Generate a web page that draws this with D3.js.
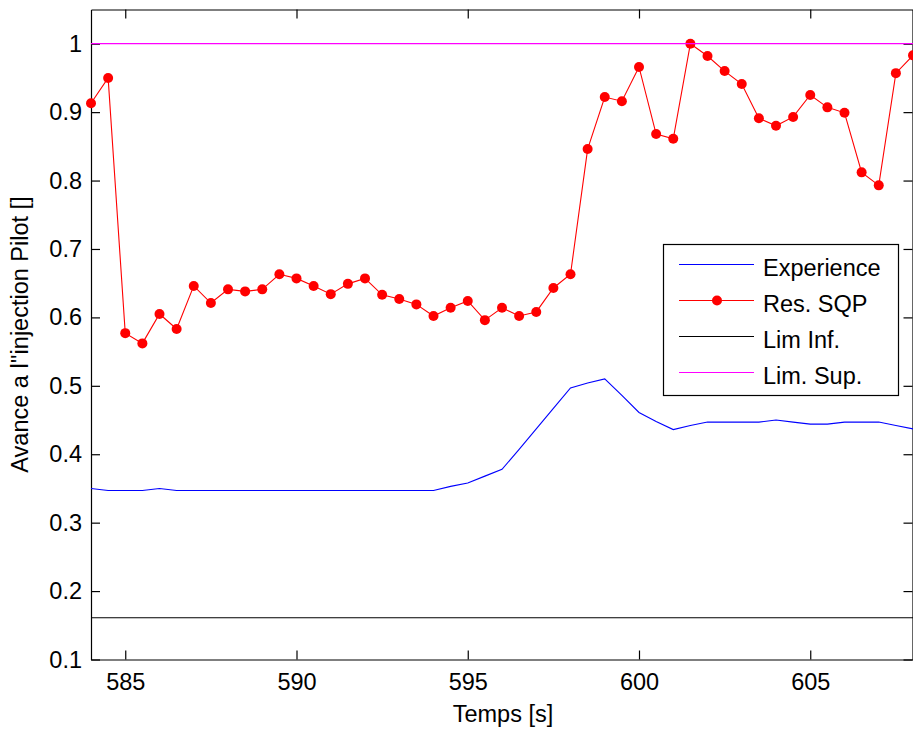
<!DOCTYPE html>
<html><head><meta charset="utf-8">
<script src="https://cdn.jsdelivr.net/npm/d3@7"></script>
<style>
html,body{margin:0;padding:0;background:#fff;}
text{font-family:"Liberation Sans",Arial,sans-serif;}
</style></head>
<body><svg id="c" width="913" height="731"></svg>
<script>
const timeRes = d3.range(584, 608.01, 0.5);
const resSQP = [0.913,0.950,0.577,0.562,0.605,0.583,0.646,0.621,0.641,0.638,
  0.641,0.663,0.657,0.646,0.634,0.649,0.657,0.633,0.627,0.619,
  0.602,0.614,0.624,0.596,0.614,0.602,0.608,0.643,0.663,0.846,
  0.922,0.916,0.966,0.868,0.861,1.000,0.982,0.960,0.941,0.891,
  0.880,0.893,0.925,0.907,0.899,0.812,0.793,0.957,0.983];
const experience = [0.350,0.347,0.347,0.347,0.350,0.347,0.347,0.347,0.347,0.347,
  0.347,0.347,0.347,0.347,0.347,0.347,0.347,0.347,0.347,0.347,
  0.347,0.353,0.358,0.368,0.378,0.407,0.437,0.467,0.497,0.504,
  0.510,0.486,0.461,0.448,0.436,0.442,0.447,0.447,0.447,0.447,
  0.450,0.447,0.444,0.444,0.447,0.447,0.447,0.442,0.437];
const limInf = 0.161;
const limSup = 1.0;
const xTicks = [585,590,595,600,605];
const yTicks = [0.1,0.2,0.3,0.4,0.5,0.6,0.7,0.8,0.9,1];
const legendLabels = ["Experience","Res. SQP","Lim Inf.","Lim. Sup."];
const legendColors = ["#0000ff","#ff0000","#000000","#ff00ff"];
const xLabel = "Temps [s]";
const yLabel = "Avance a l''injection Pilot []";

const L=91, R=913, T=9.5, B=659.5;
const svg = d3.select("#c");
const x = d3.scaleLinear().domain([584,608]).range([L,R]);
const y = d3.scaleLinear().domain([0.1,1.05]).range([B,T]);
const fs = 23.5;

// axes
const gB = svg.append("g").attr("transform",`translate(0,${B})`)
  .call(d3.axisBottom(x).tickValues(xTicks).tickSizeInner(-9).tickSizeOuter(0).tickPadding(14).tickFormat(d3.format("d")));
const gT = svg.append("g").attr("transform",`translate(0,${T})`)
  .call(d3.axisTop(x).tickValues(xTicks).tickSizeInner(-9).tickSizeOuter(0).tickFormat(""));
const gL = svg.append("g").attr("transform",`translate(${L},0)`)
  .call(d3.axisLeft(y).tickValues(yTicks).tickSizeInner(-9).tickSizeOuter(0).tickPadding(9).tickFormat(d=>d3.format("")(+d.toFixed(1))));
const gR = svg.append("g").attr("transform",`translate(${R-0.5},0)`)
  .call(d3.axisRight(y).tickValues(yTicks).tickSizeInner(-9).tickSizeOuter(0).tickFormat(""));
[gB,gT,gL,gR].forEach(g=>{
  g.selectAll("path.domain").attr("stroke","#000").attr("stroke-width",1.2);
  g.selectAll(".tick line").attr("stroke","#000").attr("stroke-width",1.2);
  g.selectAll("text").attr("font-size",fs).attr("fill","#000").attr("font-family","Liberation Sans, Arial, sans-serif");
});

// series
const line = d3.line().x(d=>x(d[0])).y(d=>y(d[1]));
svg.append("path").datum(timeRes.map((t,i)=>[t,experience[i]]))
  .attr("d",line).attr("fill","none").attr("stroke","#0000ff").attr("stroke-width",1.1);
svg.append("path").datum(timeRes.map((t,i)=>[t,resSQP[i]]))
  .attr("d",line).attr("fill","none").attr("stroke","#ff0000").attr("stroke-width",1.1);
svg.append("g").selectAll("circle").data(timeRes.map((t,i)=>[t,resSQP[i]])).join("circle")
  .attr("cx",d=>x(d[0])).attr("cy",d=>y(d[1])).attr("r",5).attr("fill","#ff0000");
svg.append("line").attr("x1",x(584)).attr("x2",x(608)).attr("y1",y(limInf)).attr("y2",y(limInf))
  .attr("stroke","#000").attr("stroke-width",1);
svg.append("line").attr("x1",x(584)).attr("x2",x(608)).attr("y1",y(limSup)).attr("y2",y(limSup))
  .attr("stroke","#ff00ff").attr("stroke-width",1.3);

// labels
svg.append("text").attr("x",(L+R)/2+1).attr("y",722).attr("text-anchor","middle")
  .attr("font-size",fs).text(xLabel);
svg.append("text").attr("transform",`translate(28,${(T+B)/2}) rotate(-90)`).attr("text-anchor","middle")
  .attr("font-size",fs).text(yLabel);

// legend
const lg = svg.append("g");
lg.append("rect").attr("x",663.5).attr("y",244.5).attr("width",235).attr("height",151)
  .attr("fill","#fff").attr("stroke","#000").attr("stroke-width",1.2);
const rowY = [264.5,300.5,336.5,372.5];
legendLabels.forEach((lab,i)=>{
  lg.append("line").attr("x1",679).attr("x2",754).attr("y1",rowY[i]).attr("y2",rowY[i])
    .attr("stroke",legendColors[i]).attr("stroke-width",1.1);
  if(i===1) lg.append("circle").attr("cx",717).attr("cy",rowY[i]).attr("r",5).attr("fill","#ff0000");
  lg.append("text").attr("x",763).attr("y",rowY[i]+11).attr("font-size",fs).text(lab);
});
</script></body></html>
